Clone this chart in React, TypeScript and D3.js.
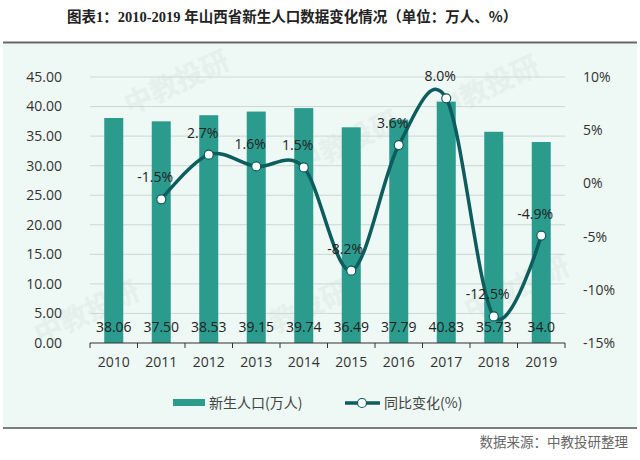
import React from "react";
import * as d3 from "d3";

const years = ["2010", "2011", "2012", "2013", "2014", "2015", "2016", "2017", "2018", "2019"];
const births = [38.06, 37.5, 38.53, 39.15, 39.74, 36.49, 37.79, 40.83, 35.73, 34.0];
const birthLabels = ["38.06", "37.50", "38.53", "39.15", "39.74", "36.49", "37.79", "40.83", "35.73", "34.0"];
const yoyYears = ["2011", "2012", "2013", "2014", "2015", "2016", "2017", "2018", "2019"];
const yoy = [-1.5, 2.7, 1.6, 1.5, -8.2, 3.6, 8.0, -12.5, -4.9];
const leftTicks = [0, 5, 10, 15, 20, 25, 30, 35, 40, 45];
const rightTicks = [-15, -10, -5, 0, 5, 10];

const BAR = "#2b9b8e";
const LINE = "#0d5c5e";
const CJK = "'Noto Sans CJK SC', 'Noto Sans', sans-serif";
const NUM = "'Open Sans', 'Noto Sans', sans-serif";

export default function App() {
  const W = 640, H = 460;
  const x0 = 90, x1 = 565, yTop = 77, yBot = 343;
  const xb = d3.scaleBand<string>().domain(years).range([x0, x1]);
  const yL = d3.scaleLinear().domain([0, 45]).range([yBot, yTop]);
  const yR = d3.scaleLinear().domain([-15, 10]).range([yBot, yTop]);
  const cx = (yr: string) => (xb(yr) as number) + xb.bandwidth() / 2;
  const pts: [number, number][] = yoy.map((v, i) => [cx(yoyYears[i]), yR(v)]);
  const line = d3.line().curve(d3.curveCardinal.tension(0))(pts) || "";
  const bw = 19;

  const wm = [
    [40, 345], [130, 115], [300, 175], [250, 345], [470, 320], [440, 120],
  ];

  return (
    <svg width={W} height={H} style={{ display: "block", position: "absolute", left: 0, top: 0 }}>
      <rect x={0} y={0} width={W} height={H} fill="#ffffff" />
      <text x={67} y={22} fontSize={14.5} fontWeight="bold" fill="#222" fontFamily={"'Liberation Serif', " + CJK}>
        <tspan fontFamily={CJK}>图表</tspan>
        <tspan>1：2010-2019 </tspan>
        <tspan fontFamily={CJK}>年山西省新生人口数据变化情况（单位：万人、%）</tspan>
      </text>
      <rect x={3} y={44} width={634} height={384} fill="#eef8f4" />
      <line x1={3} x2={637} y1={42.5} y2={42.5} stroke="#666" strokeWidth={2} />
      <line x1={3} x2={637} y1={428} y2={428} stroke="#555" strokeWidth={1.5} />
      <text x={628} y={447} textAnchor="end" fontSize={13.5} fill="#666" fontFamily={CJK}>数据来源：中教投研整理</text>

      {wm.map(([wx, wy], i) => (
        <text key={i} x={wx} y={wy} fontSize={28} fontWeight="bold" fill="#dde9e5" opacity={0.5}
          transform={`rotate(-25 ${wx} ${wy})`} fontFamily={CJK}>中教投研</text>
      ))}

      {leftTicks.map((t) => (
        <g key={t}>
          {t > 0 && <line x1={x0} x2={x1} y1={yL(t)} y2={yL(t)} stroke="#c9d9d5" strokeWidth={1} />}
          <text x={62} y={yL(t)} dy="0.35em" textAnchor="end" fontSize={14} fill="#333" fontFamily={NUM}>
            {t.toFixed(2)}
          </text>
        </g>
      ))}
      {rightTicks.map((t) => (
        <text key={t} x={583} y={yR(t)} dy="0.35em" textAnchor="start" fontSize={14} fill="#333" fontFamily={NUM}>
          {t + "%"}
        </text>
      ))}

      {years.map((yr, i) => (
        <rect key={yr} x={cx(yr) - bw / 2} y={yL(births[i])} width={bw} height={yBot - yL(births[i])} fill={BAR} />
      ))}

      <line x1={x0} x2={x1} y1={yBot} y2={yBot} stroke="#333" strokeWidth={1} />
      {[...years.map((yr) => xb(yr) as number), x1].map((tx, i) => (
        <line key={i} x1={tx} x2={tx} y1={yBot} y2={yBot + 5} stroke="#333" strokeWidth={1} />
      ))}
      {years.map((yr) => (
        <text key={yr} x={cx(yr)} y={367} textAnchor="middle" fontSize={14} fill="#333" fontFamily={NUM}>{yr}</text>
      ))}
      {years.map((yr, i) => (
        <text key={yr} x={cx(yr)} y={332} textAnchor="middle" fontSize={14} fill="#222" fontFamily={NUM}>{birthLabels[i]}</text>
      ))}

      <path d={line} fill="none" stroke={LINE} strokeWidth={3.5} strokeLinecap="round" />
      {pts.map(([px, py], i) => (
        <circle key={i} cx={px} cy={py} r={4.5} fill="#fff" stroke={LINE} strokeWidth={1.2} />
      ))}
      {pts.map(([px, py], i) => (
        <text key={i} x={px - 6} y={py - 17} textAnchor="middle" fontSize={14} fill="#222" fontFamily={NUM}>
          {yoy[i].toFixed(1) + "%"}
        </text>
      ))}

      <rect x={173} y={399} width={32} height={7} fill={BAR} />
      <text x={209} y={408} fontSize={14} fill="#444" fontFamily={CJK}>新生人口(万人)</text>
      <line x1={345} x2={380} y1={403} y2={403} stroke={LINE} strokeWidth={3.5} />
      <circle cx={362} cy={403} r={4.5} fill="#fff" stroke={LINE} strokeWidth={1.2} />
      <text x={384} y={408} fontSize={14} fill="#444" fontFamily={CJK}>同比变化(%)</text>
    </svg>
  );
}
